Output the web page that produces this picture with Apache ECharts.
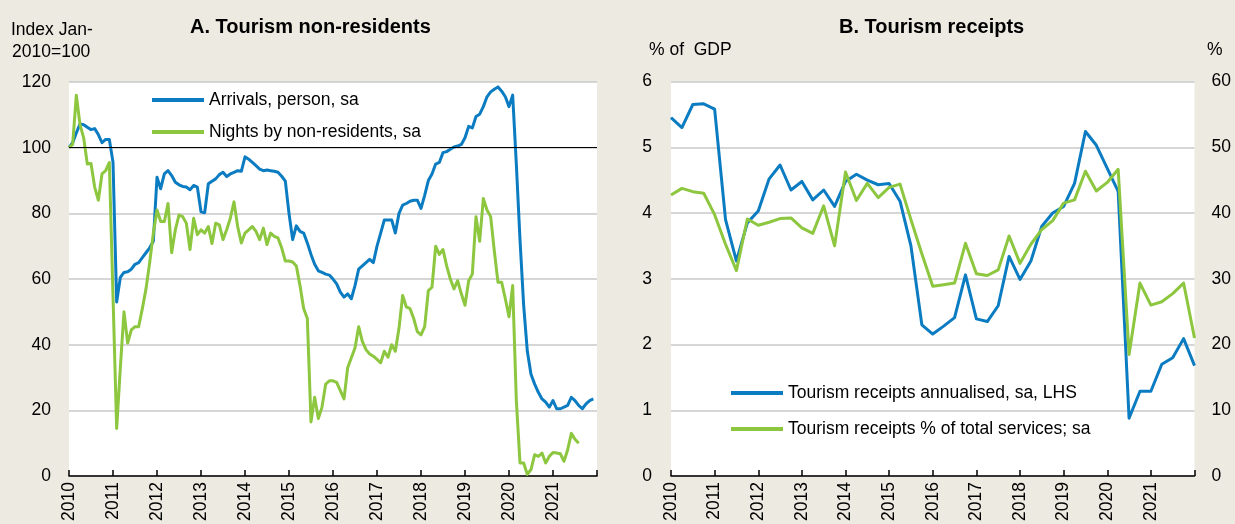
<!DOCTYPE html>
<html><head><meta charset="utf-8">
<script src="https://cdn.jsdelivr.net/npm/echarts@6/dist/echarts.min.js"></script>
<style>html,body{margin:0;padding:0;background:#ECEAE1;} #c{width:1235px;height:524px;}</style>
</head><body><div id="c"></div>
<script>
// ---------- Panel A: monthly, Jan 2010 - Dec 2021 ----------
var arrivals = [
 100, 101.5, 104.5, 107.2, 107, 106.2, 105.5, 105.8, 104, 101.5, 102.5, 102.5,
 95.6, 53, 60.5, 62, 62.2, 63, 64.5, 65, 66.5, 68, 69.5, 71.5,
 91, 87.5, 92, 93, 91.5, 89.5, 88.7, 88.2, 88, 87.2, 88.5, 88,
 80.5, 80.2, 89, 89.8, 90.5, 91.8, 92.5, 91.2, 92, 92.5, 93, 92.8,
 97.2, 96.5, 95.5, 94.5, 93.5, 93, 93.2, 93, 92.8, 92.5, 91.3, 89.8,
 80, 72, 76.2, 74.5, 74, 71, 67.5, 64.5, 62.5, 62, 61.5, 61.2,
 60, 58.5, 56, 54.5, 55.5, 54, 58, 63, 64, 65, 66, 65,
 70, 74, 78, 78, 78, 74, 80, 82.5, 83, 83.7, 84, 84,
 81.5, 85.5, 90, 92, 95, 95.5, 98.5, 98.8, 99.5, 100.2, 100.5, 101,
 103, 106.5, 106, 109.5, 110.2, 112.5, 115.5, 117, 117.8, 118.5, 117.2, 115.5,
 112.5, 116, 95, 72, 52, 38, 31, 28, 25.5, 23.5, 22.5, 21,
 23, 20.5, 20.5, 21, 21.5, 24, 23, 21.5, 20.5, 22, 23, 23.5
];
var nights = [
 100, 101, 116, 107, 103, 95, 95.2, 88, 84, 92, 93, 95.5,
 55, 14.5, 33, 50, 40.5, 44.5, 45.5, 45.5, 51, 57, 65, 74,
 81, 77.5, 77.5, 83, 68, 75, 79.5, 79, 77, 69, 78.5, 73.5,
 75, 74, 76, 70.8, 77, 76.5, 72, 75, 78.5, 83.5, 76, 71,
 74, 75, 76, 74.5, 72, 75.5, 70.5, 74, 73, 72.5, 69.5, 65.5,
 65.5, 65.2, 64, 58, 51, 48, 16.5, 24, 17.5, 21, 28, 29,
 29, 28.5, 26, 23.5, 33, 36, 39, 45.5, 41, 38.5, 37.2, 36.5,
 35.5, 34.5, 38, 36.2, 40, 38, 45, 55, 51.5, 51, 48, 44,
 43, 45.5, 56.5, 57.5, 70, 67.5, 69, 64, 60, 57, 59.5, 55.5,
 52, 59.5, 61.5, 79, 71.5, 84.5, 81, 79, 68.5, 59, 59, 54,
 48.5, 58, 23, 4, 4, 0.5, 2, 6.5, 6, 7, 4, 6,
 7.2, 7, 6.8, 4.5, 8, 13, 11.2, 10, null, null, null, null
];
var months = [];
for (var yy = 2010; yy <= 2021; yy++) for (var mm = 1; mm <= 12; mm++) months.push(yy + '-' + (mm < 10 ? '0' + mm : mm));

// ---------- Panel B: quarterly, 2009Q4 - 2021Q4 (plotted at quarter end) ----------
var quarters = ['2009Q4'];
for (var qy = 2010; qy <= 2021; qy++) for (var q = 1; q <= 4; q++) quarters.push(qy + 'Q' + q);
var receiptsGDP = [
 5.45, 5.30, 5.65, 5.66, 5.58, 3.90, 3.27, 3.85, 4.03, 4.52, 4.73, 4.35,
 4.48, 4.20, 4.35, 4.10, 4.48, 4.59, 4.50, 4.43, 4.45, 4.18, 3.50, 2.30,
 2.16, 2.28, 2.41, 3.06, 2.39, 2.35, 2.59, 3.34, 2.99, 3.27, 3.80, 4.00,
 4.10, 4.45, 5.24, 5.03, 4.68, 4.33, 0.88, 1.29, 1.29, 1.70, 1.80, 2.09, 1.68
];
var receiptsServ = [
 42.75, 43.75, 43.25, 43.0, 39.75, 35.25, 31.25, 39.1, 38.15, 38.6, 39.15, 39.25,
 37.75, 36.9, 41.1, 35.0, 46.25, 41.9, 44.5, 42.35, 43.9, 44.4, 39.0, 33.8,
 28.85, 29.1, 29.35, 35.4, 30.75, 30.5, 31.35, 36.5, 32.35, 35.25, 37.5, 38.85,
 41.5, 42.0, 46.35, 43.35, 44.65, 46.65, 18.5, 29.35, 26.0, 26.5, 27.75, 29.35, 21.0
];

var titleA = 'A. Tourism non-residents';
var titleB = 'B. Tourism receipts';
var unitA = ['Index Jan-', '2010=100'];
var unitBL = '% of  GDP';
var unitBR = '%';
var legendA = ['Arrivals, person, sa', 'Nights by non-residents, sa'];
var legendB = ['Tourism receipts annualised, sa, LHS', 'Tourism receipts % of total services; sa'];

var BLUE = '#0b7cc1', GREEN = '#8dc63f';
var FONT = 'Liberation Sans, Arial, sans-serif';
var FS = 17.5;

function monthX(label) { var p = label.split('-'); return +p[0] + (+p[1] - 1) / 12; }
function quarterX(label) { var p = label.split('Q'); return +p[0] + (+p[1]) / 4; }

function xAxisCfg(gi) {
  return {
    type: 'value', gridIndex: gi, min: 2010, max: 2022, interval: 1,
    axisLine: { show: true, onZero: false, lineStyle: { color: '#000', width: 1.5 } },
    axisTick: { show: true, inside: true, length: 6, lineStyle: { color: '#000', width: 1.5 } },
    axisLabel: { rotate: 90, margin: 6, color: '#000', fontSize: FS, fontFamily: FONT,
      formatter: function (v) { return v >= 2022 ? '' : String(v); } },
    splitLine: { show: false }
  };
}

var chart = echarts.init(document.getElementById('c'), null, { renderer: 'canvas' });
chart.setOption({
  backgroundColor: '#ECEAE1',
  animation: false,
  textStyle: { fontFamily: FONT },
  grid: [
    { left: 69, top: 82, width: 528, height: 400, show: true, backgroundColor: '#ffffff', borderWidth: 0 },
    { left: 671, top: 81.5, width: 523.5, height: 399, show: true, backgroundColor: '#ffffff', borderWidth: 0 }
  ],
  xAxis: [xAxisCfg(0), xAxisCfg(1)],
  yAxis: [
    { type: 'value', gridIndex: 0, min: 0, max: 120, interval: 20,
      axisLine: { show: false }, axisTick: { show: false },
      axisLabel: { margin: 18, color: '#000', fontSize: FS, fontFamily: FONT },
      splitLine: { show: true, lineStyle: { color: '#c9c9c9', width: 1.5 } } },
    { type: 'value', gridIndex: 1, position: 'left', min: 0, max: 6, interval: 1,
      axisLine: { show: false }, axisTick: { show: false },
      axisLabel: { margin: 19, color: '#000', fontSize: FS, fontFamily: FONT },
      splitLine: { show: true, lineStyle: { color: '#c9c9c9', width: 1.5 } } },
    { type: 'value', gridIndex: 1, position: 'right', min: 0, max: 60, interval: 10,
      axisLine: { show: false }, axisTick: { show: false },
      axisLabel: { margin: 17, color: '#000', fontSize: FS, fontFamily: FONT },
      splitLine: { show: false } }
  ],
  legend: [
    { data: legendA, orient: 'vertical', left: 152, top: 91, padding: 0, itemGap: 14,
      icon: 'rect', itemWidth: 52, itemHeight: 4,
      textStyle: { color: '#000', fontSize: FS, fontFamily: FONT } },
    { data: legendB, orient: 'vertical', left: 731, top: 384, padding: 0, itemGap: 18,
      icon: 'rect', itemWidth: 52, itemHeight: 4,
      textStyle: { color: '#000', fontSize: FS, fontFamily: FONT } }
  ],
  graphic: [
    { type: 'text', left: 309 - 119, top: 17, style: { text: titleA, fontSize: 20, fontWeight: 'bold', fontFamily: FONT, fill: '#000' } },
    { type: 'text', left: 931 - 92, top: 17, style: { text: titleB, fontSize: 20, fontWeight: 'bold', fontFamily: FONT, fill: '#000' } },
    { type: 'text', left: 11, top: 21, style: { text: unitA[0], fontSize: FS, fontFamily: FONT, fill: '#000' } },
    { type: 'text', left: 12, top: 43, style: { text: unitA[1], fontSize: FS, fontFamily: FONT, fill: '#000' } },
    { type: 'text', left: 649, top: 41, style: { text: unitBL, fontSize: FS, fontFamily: FONT, fill: '#000' } },
    { type: 'text', left: 1207, top: 41, style: { text: unitBR, fontSize: FS, fontFamily: FONT, fill: '#000' } }
  ],
  series: [
    { name: legendA[0], type: 'line', xAxisIndex: 0, yAxisIndex: 0, showSymbol: false, symbol: 'none',
      data: arrivals.map(function (v, i) { return [monthX(months[i]), v]; }),
      lineStyle: { color: BLUE, width: 3, join: 'round' }, itemStyle: { color: BLUE },
      markLine: { silent: true, symbol: ['none', 'none'], label: { show: false },
        lineStyle: { color: '#000', width: 1, type: 'solid' }, data: [{ yAxis: 100 }] }, z: 2 },
    { name: legendA[1], type: 'line', xAxisIndex: 0, yAxisIndex: 0, showSymbol: false, symbol: 'none',
      data: nights.map(function (v, i) { return [monthX(months[i]), v]; }),
      lineStyle: { color: GREEN, width: 3, join: 'round' }, itemStyle: { color: GREEN }, z: 3 },
    { name: legendB[0], type: 'line', xAxisIndex: 1, yAxisIndex: 1, showSymbol: false, symbol: 'none',
      data: receiptsGDP.map(function (v, i) { return [quarterX(quarters[i]), v]; }),
      lineStyle: { color: BLUE, width: 3, join: 'round' }, itemStyle: { color: BLUE }, z: 2 },
    { name: legendB[1], type: 'line', xAxisIndex: 1, yAxisIndex: 2, showSymbol: false, symbol: 'none',
      data: receiptsServ.map(function (v, i) { return [quarterX(quarters[i]), v]; }),
      lineStyle: { color: GREEN, width: 3, join: 'round' }, itemStyle: { color: GREEN }, z: 3 }
  ]
});
</script></body></html>
